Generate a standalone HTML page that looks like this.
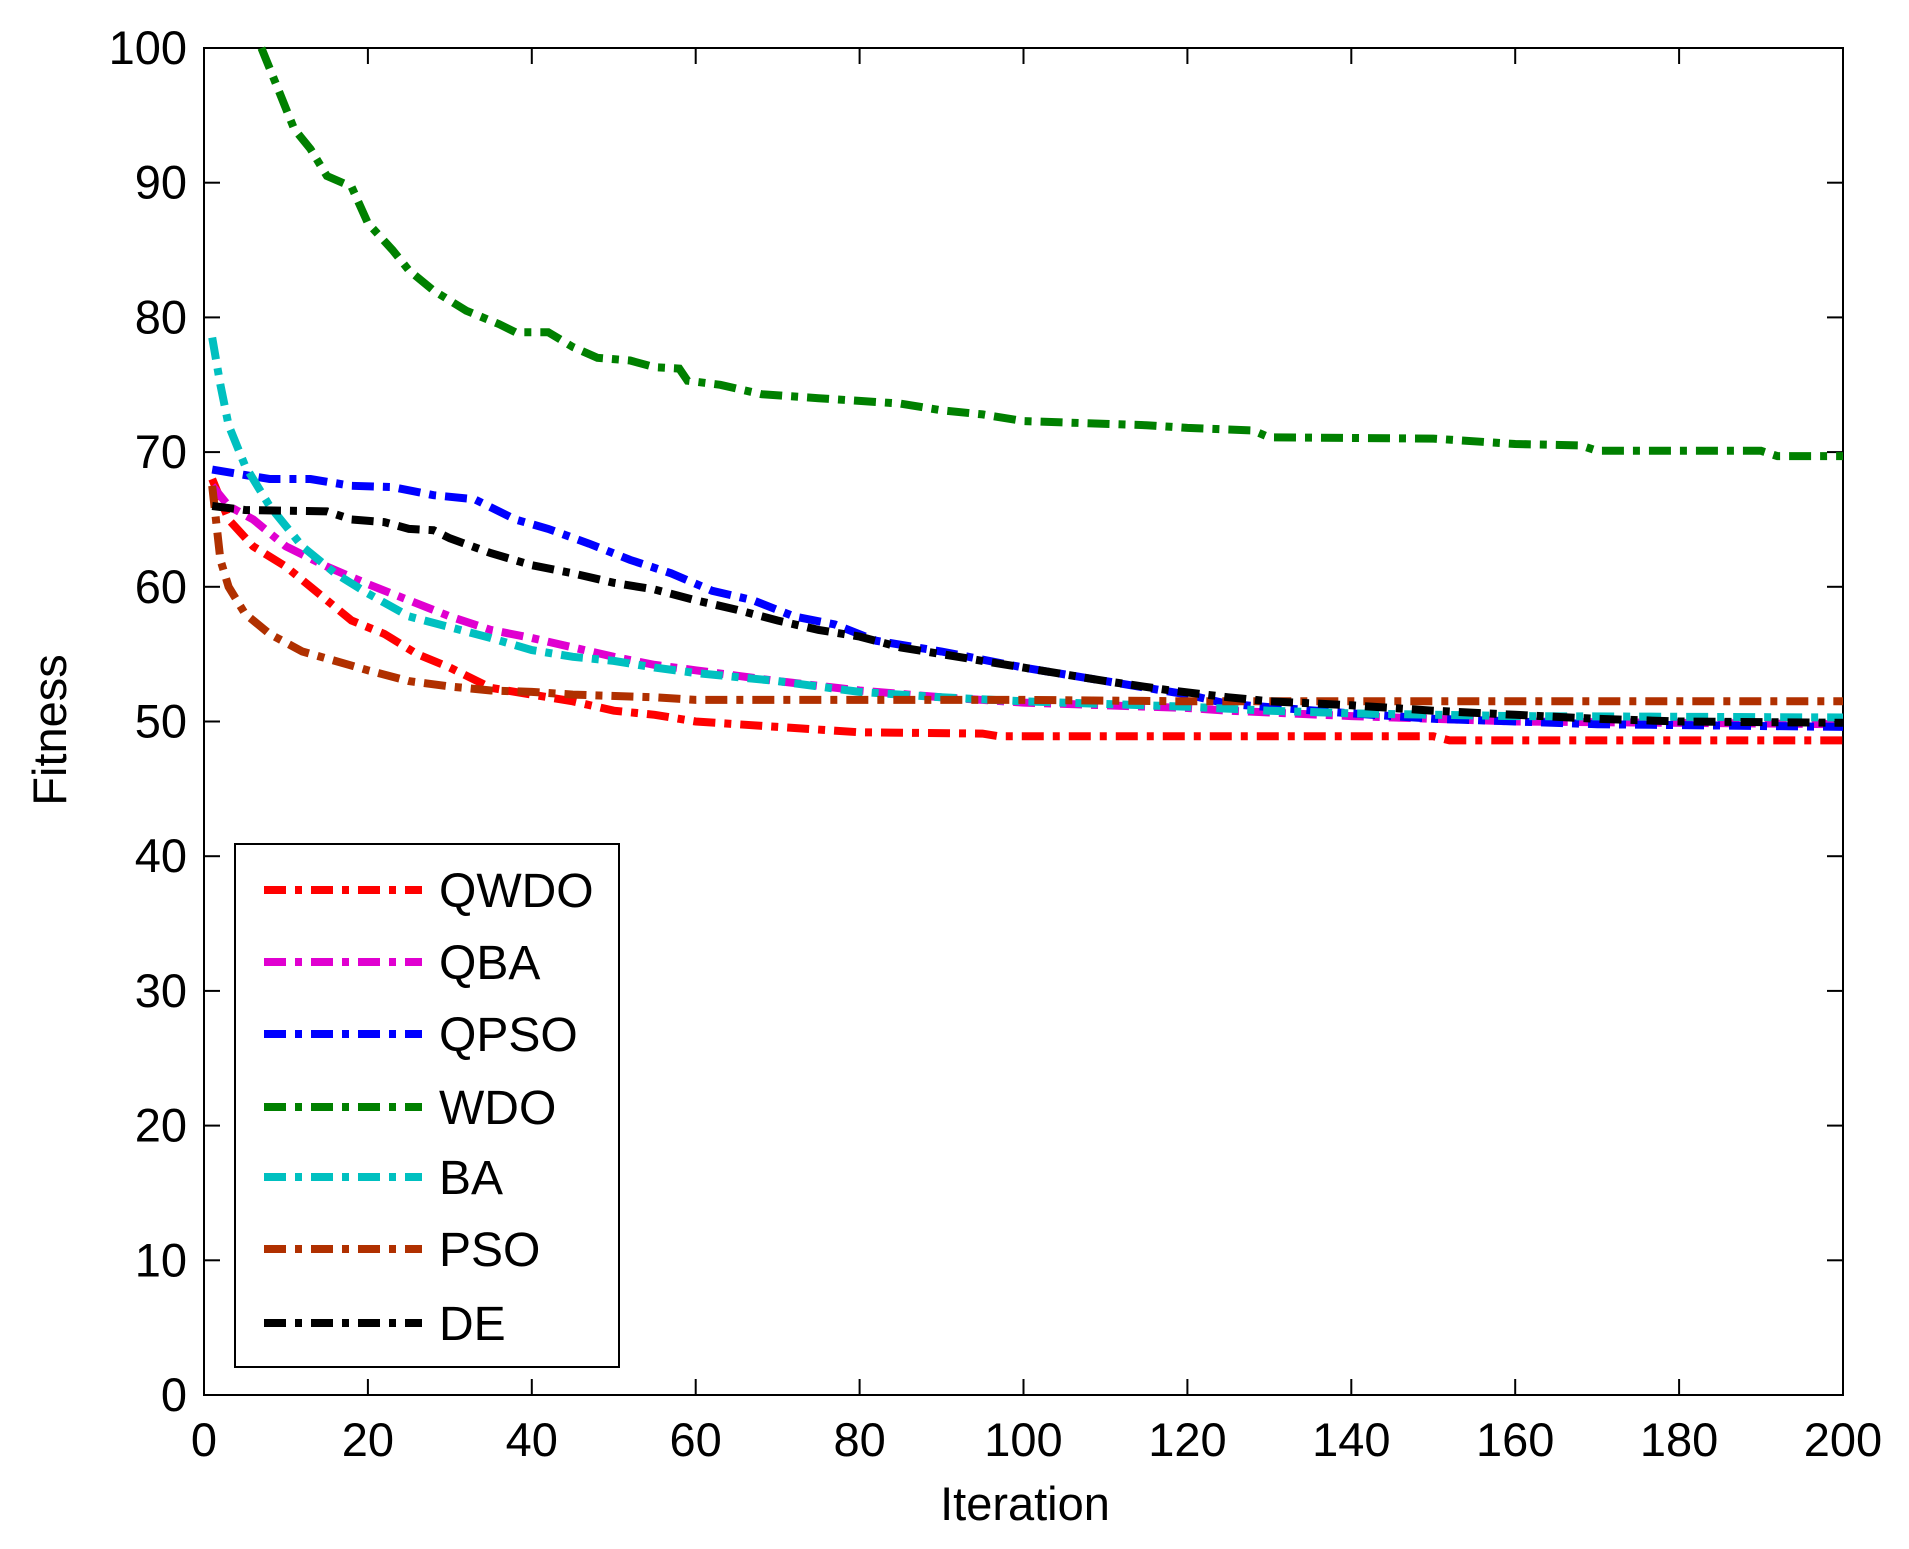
<!DOCTYPE html>
<html><head><meta charset="utf-8"><style>body{margin:0;background:#fff}svg{display:block}text{font-family:"Liberation Sans",Arial,sans-serif;font-size:47px;fill:#000}</style></head>
<body>
<svg id="s" width="1909" height="1549" xmlns="http://www.w3.org/2000/svg"></svg>
<script>
const s=document.getElementById('s');
const L=204,T=48,R=1843,B=1395;
const X=i=>L+(R-L)*i/200, Y=v=>B-(B-T)*v/100;
let h='';
h+=`<rect x="${L}" y="${T}" width="${R-L}" height="${B-T}" fill="none" stroke="#000" stroke-width="2"/>`;
for(let i=0;i<=200;i+=20){const x=X(i);
 h+=`<line x1="${x}" y1="${B}" x2="${x}" y2="${B-16}" stroke="#000" stroke-width="2"/><line x1="${x}" y1="${T}" x2="${x}" y2="${T+16}" stroke="#000" stroke-width="2"/>`;
 h+=`<text x="${x}" y="${B+61}" text-anchor="middle">${i}</text>`;}
for(let v=0;v<=100;v+=10){const y=Y(v);
 h+=`<line x1="${L}" y1="${y}" x2="${L+16}" y2="${y}" stroke="#000" stroke-width="2"/><line x1="${R}" y1="${y}" x2="${R-16}" y2="${y}" stroke="#000" stroke-width="2"/>`;
 h+=`<text x="187" y="${y+16}" text-anchor="end">${v}</text>`;}
h+=`<text x="1025" y="1520" text-anchor="middle">Iteration</text>`;
h+=`<text transform="translate(66,730) rotate(-90)" text-anchor="middle">Fitness</text>`;
const D={
'#ff0000':[[1,68],[3,65],[6,63],[10,61.5],[14,59.5],[18,57.5],[22,56.5],[26,55],[30,54],[35,52.5],[40,52],[45,51.5],[50,50.8],[55,50.5],[60,50],[65,49.8],[70,49.6],[80,49.2],[95,49.1],[97,48.9],[150,48.9],[152,48.6],[200,48.6]],
'#e000d0':[[1,67.5],[3,66],[6,65],[10,63],[15,61.5],[20,60.2],[25,59],[30,57.8],[35,56.8],[40,56.2],[45,55.5],[50,54.8],[55,54.2],[60,53.8],[65,53.4],[70,53],[80,52.3],[90,51.8],[100,51.4],[110,51.2],[120,51],[125,50.8],[140,50.4],[150,50.2],[160,50],[200,49.8]],
'#0000ff':[[1,68.7],[5,68.3],[8,68],[13,68],[18,67.5],[23,67.4],[28,66.8],[33,66.5],[38,65],[42,64.3],[47,63.2],[52,62],[57,61],[62,59.7],[67,59],[72,57.8],[77,57.2],[82,56],[90,55.2],[100,54],[110,53],[115,52.5],[120,52],[125,51.3],[140,50.6],[150,50.2],[160,50],[170,49.8],[200,49.6]],
'#008000':[[7,100],[9,97],[11,94],[13,92.5],[15,90.5],[18,89.7],[20,87],[23,85],[25,83.5],[28,82],[32,80.5],[36,79.5],[38,78.9],[42,78.9],[45,77.8],[48,77],[52,76.8],[55,76.3],[58,76.2],[59,75.3],[63,75],[68,74.3],[75,74],[85,73.6],[90,73.1],[95,72.8],[100,72.3],[115,72],[120,71.8],[128,71.6],[130,71.1],[150,71],[160,70.6],[168,70.5],[170,70.1],[190,70.1],[192,69.7],[200,69.7]],
'#00c0c0':[[1,78.5],[2,75],[3,72],[5,69],[8,66],[12,63],[16,61],[20,59.5],[25,57.8],[30,57],[35,56.2],[40,55.3],[45,54.8],[50,54.5],[55,54],[60,53.6],[70,53],[80,52.2],[90,51.8],[100,51.5],[120,51.1],[130,50.8],[140,50.6],[160,50.4],[200,50.3]],
'#b03000':[[1,67.5],[2,62],[3,60],[5,58],[8,56.5],[12,55.2],[16,54.5],[20,53.8],[25,53],[30,52.6],[35,52.3],[40,52.2],[45,52],[55,51.8],[60,51.6],[100,51.6],[120,51.5],[200,51.5]],
'#000000':[[1,66],[5,65.7],[15,65.6],[18,65],[22,64.8],[25,64.3],[28,64.2],[30,63.6],[35,62.5],[40,61.6],[45,61],[50,60.3],[55,59.8],[60,59],[65,58.3],[70,57.5],[75,56.8],[80,56.3],[85,55.5],[90,55],[95,54.5],[100,54],[110,53],[118,52.3],[125,51.8],[130,51.5],[140,51.2],[150,50.8],[160,50.5],[170,50.2],[180,50],[200,49.9]]};
const da='22 9 7 9';
for(const c in D){h+=`<polyline fill="none" stroke="${c}" stroke-width="8" stroke-dasharray="${da}" points="${D[c].map(p=>X(p[0]).toFixed(1)+','+Y(p[1]).toFixed(1)).join(' ')}"/>`;}
h+=`<rect x="235" y="844" width="384" height="523" fill="#fff" stroke="#000" stroke-width="2"/>`;
const names=['QWDO','QBA','QPSO','WDO','BA','PSO','DE'],cols=Object.keys(D),ys=[890,962,1034,1107,1177,1249,1323];
names.forEach((n,k)=>{h+=`<line x1="264" y1="${ys[k]}" x2="422" y2="${ys[k]}" stroke="${cols[k]}" stroke-width="8" stroke-dasharray="${da}"/><text x="439" y="${ys[k]+17}" style="font-size:48px">${n}</text>`;});
s.innerHTML=h;
</script>
</body></html>
